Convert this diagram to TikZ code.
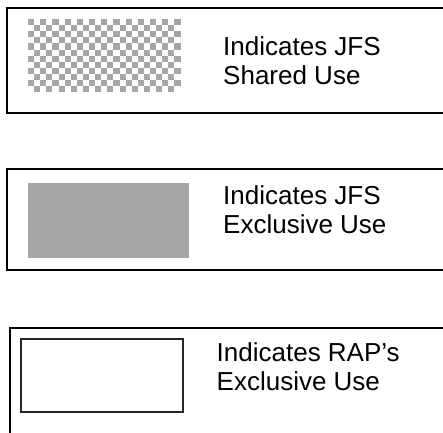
\documentclass[tikz,border=0pt]{standalone}
\usepackage{fontspec}
\setmainfont{Liberation Sans}

\tikzset{
  frame/.style={draw, line width=2pt, anchor=north west, inner sep=0pt},
  swatch/.style={anchor=north west, inner sep=0pt},
  legendtext/.style={anchor=north west, align=left, inner sep=0pt,
    font=\fontsize{26}{29}\selectfont},
}
\colorlet{swatchgray}{black!35}

\begin{document}
\begin{tikzpicture}[x=1pt, y=-1pt]
\useasboundingbox (0,0) rectangle (443,432);

% shared use
\node[frame, minimum width=460pt, minimum height=105pt] (sharedframe) at (6,7) {};
\node[swatch, minimum width=152.5pt, minimum height=73pt] (sharedswatch) at (28,19) {};
\begin{scope}
  \clip (sharedswatch.north west) rectangle (sharedswatch.south east);
  \foreach \i in {0,...,24}
    \foreach \j in {0,...,11} {
      \pgfmathparse{int(mod(\i+\j,2))}
      \ifnum\pgfmathresult=0
        \fill[swatchgray] (28+6.1*\i,19+6.1*\j) rectangle ++(6.1,6.1);
      \fi
    }
\end{scope}
\node[legendtext] (sharedtext) at (223,36) {Indicates JFS\\Shared Use};

% JFS exclusive use
\node[frame, minimum width=460pt, minimum height=101pt] (jfsframe) at (6,168) {};
\node[swatch, fill=swatchgray, minimum width=161pt, minimum height=75pt] (jfsswatch) at (28,183) {};
\node[legendtext] (jfstext) at (223,185) {Indicates JFS\\Exclusive Use};

% RAP exclusive use
\node[frame, minimum width=460pt, minimum height=130pt] (rapframe) at (9,327) {};
\node[swatch, draw=black!85, line width=2pt, minimum width=162.5pt, minimum height=73pt] (rapswatch) at (19.5,338) {};
\node[legendtext] (raptext) at (216.5,342) {Indicates RAP's\\Exclusive Use};
\end{tikzpicture}
\end{document}
